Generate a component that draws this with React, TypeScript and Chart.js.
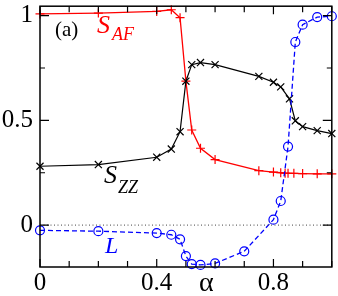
import React, { useEffect, useRef } from 'react';
import { Chart, registerables } from 'chart.js';
Chart.register(...registerables);

// ---- data ----
const alphaAF = [0, 0.2, 0.4, 0.45, 0.48, 0.5, 0.52, 0.55, 0.6, 0.75, 0.8, 0.825, 0.84, 0.85, 0.87, 0.9, 0.95, 1.0];
const sAF = [1.008, 1.012, 1.02, 1.028, 0.99, 0.687, 0.454, 0.367, 0.313, 0.26, 0.253, 0.25, 0.248, 0.247, 0.247, 0.246, 0.245, 0.245];

const alphaZZ = [0, 0.2, 0.4, 0.45, 0.48, 0.5, 0.52, 0.55, 0.6, 0.75, 0.8, 0.825, 0.855, 0.875, 0.9, 0.95, 1.0];
const sZZ = [0.281, 0.289, 0.324, 0.363, 0.446, 0.687, 0.766, 0.776, 0.766, 0.71, 0.682, 0.66, 0.603, 0.498, 0.47, 0.451, 0.437];

const alphaL = [0, 0.2, 0.4, 0.45, 0.48, 0.5, 0.52, 0.55, 0.6, 0.7, 0.8, 0.825, 0.85, 0.875, 0.9, 0.95, 1.0];
const lVals = [-0.025, -0.029, -0.038, -0.046, -0.068, -0.148, -0.186, -0.19, -0.183, -0.125, 0.026, 0.115, 0.375, 0.874, 0.957, 0.993, 0.997];

const zeroLineX = [0, 1];
const zeroLineY = [0, 0];

const xTickValues = [0, 0.1, 0.2, 0.3, 0.4, 0.5, 0.6, 0.7, 0.8, 0.9, 1.0];
const xLabelValues = [0, 0.4, 0.8];
const yTickValues = [0, 0.25, 0.5, 0.75, 1];
const yLabelValues = [0, 0.5, 1];

const toPts = (xs: number[], ys: number[]) => xs.map((x, i) => ({ x, y: ys[i] }));

const SERIF = "'Liberation Serif', 'DejaVu Serif', serif";
Chart.defaults.font.family = SERIF;

const framePlugin = {
  id: 'frame',
  afterDraw(chart: any) {
    const { ctx, chartArea: a, scales } = chart;
    const xs = scales.x;
    const ys = scales.y;
    ctx.save();
    ctx.strokeStyle = '#000';
    ctx.lineWidth = 1.2;
    ctx.beginPath();
    xTickValues.forEach((v) => {
      const px = xs.getPixelForValue(v);
      const len = xLabelValues.includes(v) ? 8 : 6;
      ctx.moveTo(px, a.bottom);
      ctx.lineTo(px, a.bottom - len);
      ctx.moveTo(px, a.top);
      ctx.lineTo(px, a.top + len);
    });
    yTickValues.forEach((v) => {
      const py = ys.getPixelForValue(v);
      const len = yLabelValues.includes(v) ? 9 : 5;
      ctx.moveTo(a.left, py);
      ctx.lineTo(a.left + len, py);
      ctx.moveTo(a.right, py);
      ctx.lineTo(a.right - len, py);
    });
    ctx.stroke();
    ctx.lineWidth = 1.5;
    ctx.strokeRect(a.left, a.top, a.right - a.left, a.bottom - a.top);

    ctx.textBaseline = 'alphabetic';
    ctx.textAlign = 'left';
    // (a)
    ctx.fillStyle = '#000';
    ctx.font = `21px ${SERIF}`;
    ctx.fillText('(a)', 55, 36);
    // S_AF
    ctx.fillStyle = '#ff0000';
    ctx.font = `italic 26px ${SERIF}`;
    ctx.fillText('S', 97, 33);
    ctx.font = `italic 18px ${SERIF}`;
    ctx.fillText('AF', 112, 40);
    // S_ZZ
    ctx.fillStyle = '#000';
    ctx.font = `italic 26px ${SERIF}`;
    ctx.fillText('S', 104, 183);
    ctx.font = `italic 18px ${SERIF}`;
    ctx.fillText('ZZ', 118, 193);
    // L
    ctx.fillStyle = '#0000ff';
    ctx.font = `italic 24px ${SERIF}`;
    ctx.fillText('L', 105, 253);
    // alpha
    ctx.fillStyle = '#000';
    ctx.font = `28px ${SERIF}`;
    ctx.textAlign = 'center';
    ctx.fillText('α', xs.getPixelForValue(0.57), 291);
    ctx.restore();
  },
};

export default function App() {
  const ref = useRef<HTMLCanvasElement | null>(null);
  useEffect(() => {
    if (!ref.current) return;
    const chart = new Chart(ref.current, {
      type: 'line',
      data: {
        datasets: [
          {
            data: toPts(zeroLineX, zeroLineY),
            borderColor: '#444',
            borderWidth: 1,
            borderDash: [1, 2.5],
            pointRadius: 0,
            fill: false,
          },
          {
            data: toPts(alphaL, lVals),
            borderColor: '#0000ff',
            borderWidth: 1.3,
            borderDash: [5, 3],
            pointStyle: 'circle',
            pointRadius: 4.5,
            pointBorderColor: '#0000ff',
            pointBackgroundColor: 'rgba(0,0,0,0)',
            pointBorderWidth: 1.2,
            fill: false,
            clip: false as any,
          },
          {
            data: toPts(alphaZZ, sZZ),
            borderColor: '#000',
            borderWidth: 1.2,
            pointStyle: 'crossRot',
            pointRadius: 5,
            pointBorderColor: '#000',
            pointBorderWidth: 1.2,
            fill: false,
            clip: false as any,
          },
          {
            data: toPts(alphaAF, sAF),
            borderColor: '#ff0000',
            borderWidth: 1.3,
            pointStyle: 'cross',
            pointRadius: 4.5,
            pointBorderColor: '#ff0000',
            pointBorderWidth: 1.2,
            fill: false,
            clip: false as any,
          },
        ],
      },
      options: {
        animation: false,
        responsive: false,
        maintainAspectRatio: false,
        layout: { padding: { top: 2, right: 6, left: 0, bottom: 0 } },
        plugins: { legend: { display: false }, tooltip: { enabled: false } },
        elements: { line: { tension: 0 } },
        scales: {
          x: {
            type: 'linear',
            min: 0,
            max: 1,
            afterBuildTicks: (s: any) => {
              s.ticks = xLabelValues.map((v) => ({ value: v }));
            },
            afterFit: (s: any) => {
              s.height = 29;
              s.paddingLeft = 0;
              s.paddingRight = 0;
            },
            grid: { display: false, drawTicks: false },
            border: { display: false },
            ticks: {
              color: '#000',
              padding: 1,
              maxRotation: 0,
              autoSkip: false,
              font: { family: SERIF, size: 25 },
              callback: (v: any) => String(v),
            },
          },
          y: {
            type: 'linear',
            min: -0.2,
            max: 1.045,
            afterBuildTicks: (s: any) => {
              s.ticks = yLabelValues.map((v) => ({ value: v }));
            },
            afterFit: (s: any) => {
              s.width = 40;
              s.paddingTop = 0;
              s.paddingBottom = 0;
            },
            grid: { display: false, drawTicks: false },
            border: { display: false },
            ticks: {
              color: '#000',
              padding: 7,
              autoSkip: false,
              font: { family: SERIF, size: 25 },
              callback: (v: any) => String(v),
            },
          },
        },
      },
      plugins: [framePlugin],
    } as any);
    return () => chart.destroy();
  }, []);
  return (
    <div style={{ position: 'fixed', left: 0, top: 0, width: 338, height: 296, background: '#fff' }}>
      <canvas ref={ref} width={338} height={296} style={{ display: 'block', width: 338, height: 296 }} />
    </div>
  );
}
